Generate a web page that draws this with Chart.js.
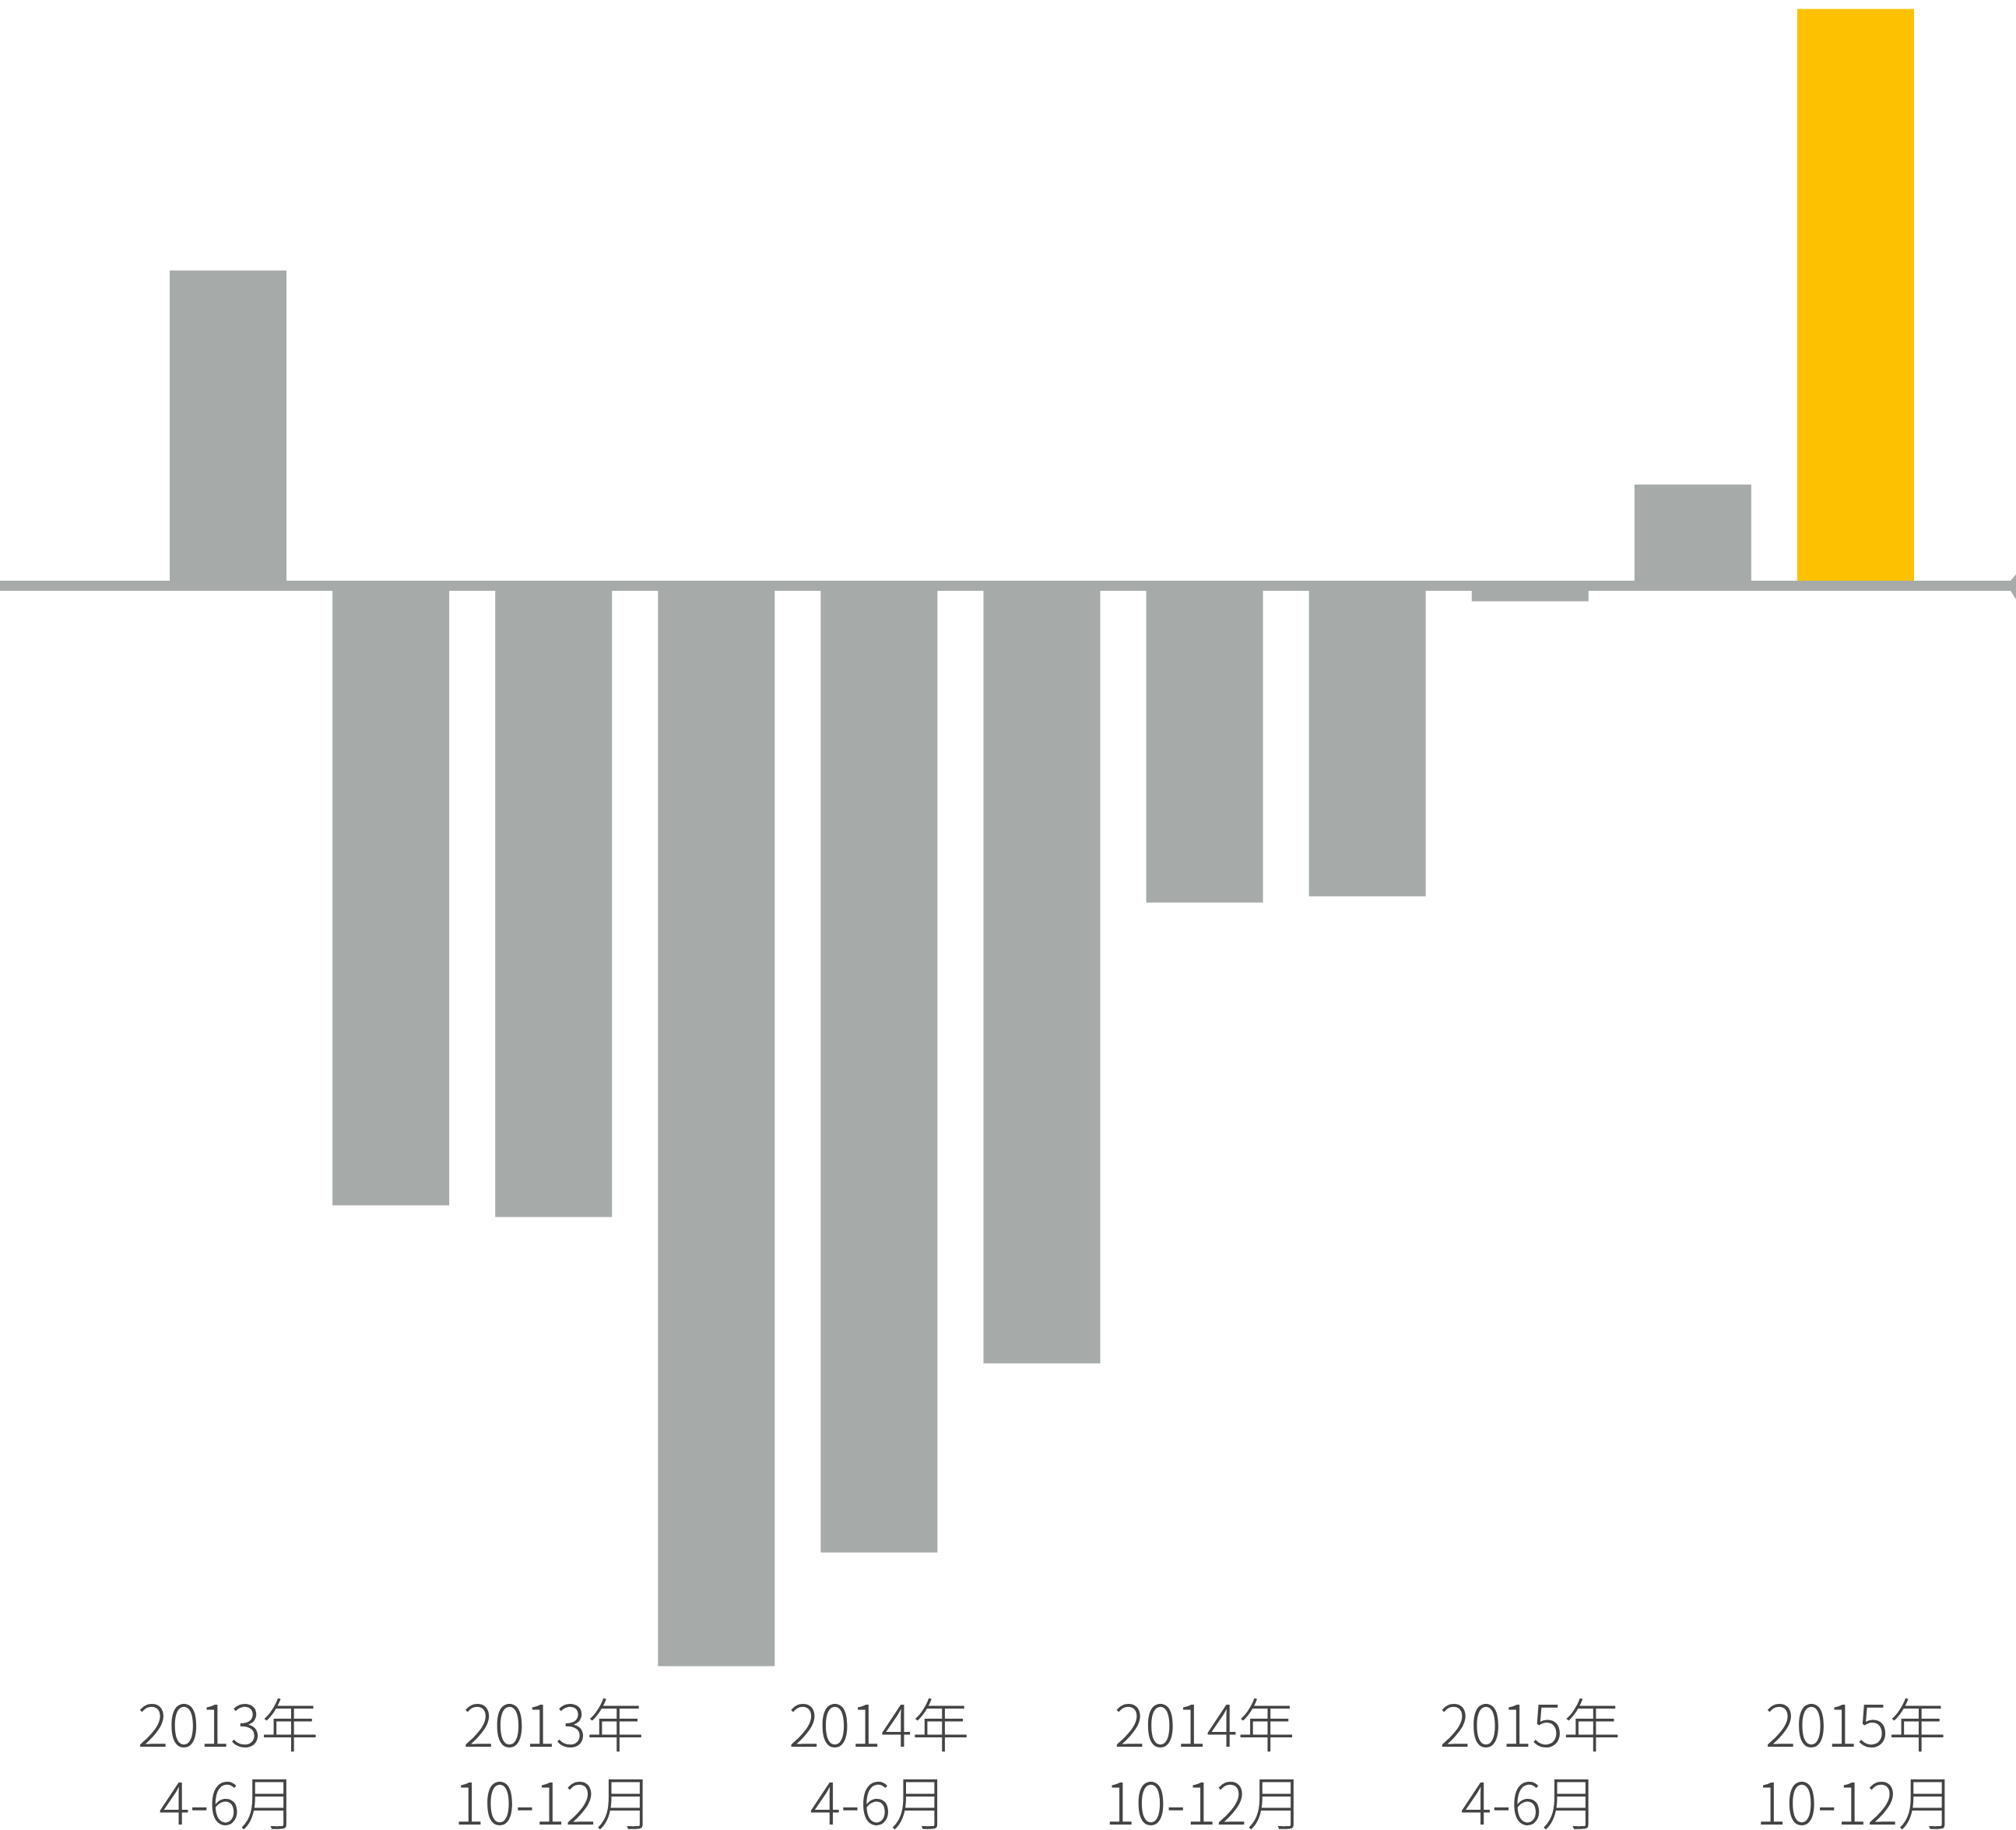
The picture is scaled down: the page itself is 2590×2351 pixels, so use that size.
<!DOCTYPE html>
<html lang="ja">
<head>
<meta charset="utf-8">
<title>四半期推移</title>
<script src="https://cdn.jsdelivr.net/npm/chart.js@4/dist/chart.umd.min.js"></script>
<style>
  html, body { margin: 0; padding: 0; background: #ffffff; }
  #wrap { width: 2590px; height: 2351px; }
</style>
</head>
<body>
<div id="wrap"><canvas id="chart" width="2590" height="2351"></canvas></div>
<script>
// Quarters from 2013 Apr–Jun to 2015 Oct–Dec
const categories = [
  ['2013年', '4-6月'], ['2013年', '7-9月'], ['2013年', '10-12月'],
  ['2014年', '1-3月'], ['2014年', '4-6月'], ['2014年', '7-9月'], ['2014年', '10-12月'],
  ['2015年', '1-3月'], ['2015年', '4-6月'], ['2015年', '7-9月'], ['2015年', '10-12月']
];
// Only every other quarter carries a visible label
const labelEvery = 2;
const values = [4.05, -7.96, -8.11, -13.88, -12.42, -9.99, -4.07, -3.99, -0.20, 1.30, 7.41];
const highlightIndex = 10;

const yRange = { min: -13.975, max: 7.525 };

const GRAY = '#a6aaa9';
const YELLOW = '#fdc101';
const TEXT = '#444444';

const barColors = values.map((v, i) => (i === highlightIndex ? YELLOW : GRAY));

// Zero baseline running across the whole canvas with a flared right end
const zeroLine = {
  id: 'zeroLine',
  afterDatasetsDraw(chart) {
    const { ctx, scales } = chart;
    const y0 = scales.y.getPixelForValue(0);
    const w = chart.width;
    const half = 6.5;
    ctx.save();
    ctx.fillStyle = GRAY;
    ctx.fillRect(0, y0 - half, w - 7, half * 2);
    ctx.beginPath();
    ctx.moveTo(w - 7, y0 - half);
    ctx.lineTo(w, y0 - half - 8);
    ctx.lineTo(w, y0 + half + 11);
    ctx.lineTo(w - 7, y0 + half);
    ctx.closePath();
    ctx.fill();
    ctx.restore();
  }
};

new Chart(document.getElementById('chart'), {
  type: 'bar',
  data: {
    labels: categories,
    datasets: [{
      data: values,
      backgroundColor: barColors,
      borderWidth: 0,
      categoryPercentage: 1,
      barPercentage: 0.7174
    }]
  },
  options: {
    responsive: false,
    animation: false,
    events: [],
    layout: { padding: { left: 188.5, right: 101.5, top: 0, bottom: 0 } },
    plugins: {
      legend: { display: false },
      tooltip: { enabled: false }
    },
    scales: {
      x: {
        grid: { display: false, drawTicks: false },
        border: { display: false },
        afterFit(scale) { scale.height = 201; },
        ticks: {
          autoSkip: false,
          maxRotation: 0,
          minRotation: 0,
          padding: 16,
          color: TEXT,
          font: { family: '"Noto Sans CJK JP", "Noto Sans", sans-serif', size: 74, weight: 300, lineHeight: 1.35 },
          callback(value, index) {
            return index % labelEvery === 0 ? this.getLabelForValue(value) : '';
          }
        }
      },
      y: {
        display: false,
        min: yRange.min,
        max: yRange.max
      }
    }
  },
  plugins: [zeroLine]
});
</script>
</body>
</html>
